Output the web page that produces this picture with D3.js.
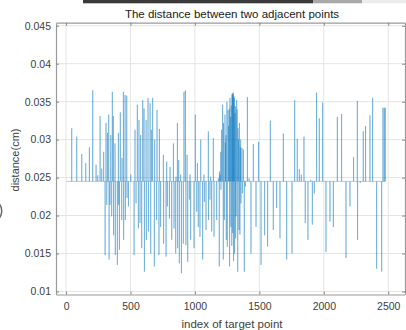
<!DOCTYPE html>
<html>
<head>
<meta charset="utf-8">
<script src="https://cdn.jsdelivr.net/npm/d3@7"></script>
<style>
  html, body { margin: 0; padding: 0; background: #fff; }
  svg { display: block; font-family: "Liberation Sans", Arial, sans-serif; }
</style>
</head>
<body>
<div id="chart"></div>
<script>
// values
const nPoints = 2480;
const baseline = 0.0245;

const spikeIndex = [
  44, 83, 122, 153, 181, 207, 233, 246, 264, 277, 292, 303, 310, 316, 321, 331, 334, 341, 347, 354,
  359, 367, 369, 380, 382, 398, 406, 408, 414, 421, 432, 434, 445, 447, 458, 460, 471, 473, 484, 502,
  528, 535, 543, 553, 561, 566, 574, 579, 587, 595, 605, 608, 621, 623, 636, 639, 652, 657, 662, 672,
  685, 688, 703, 706, 721, 724, 734, 755, 757, 776, 781, 786, 802, 807, 820, 833, 838, 851, 853, 864,
  866, 874, 879, 889, 895, 910, 915, 926, 930, 939, 944, 957, 962, 967, 993, 1003, 1014, 1019, 1026, 1039,
  1045, 1060, 1070, 1073, 1086, 1104, 1106, 1117, 1122, 1130, 1143, 1148, 1169, 1182, 1189, 1190, 1195, 1200, 1202, 1207,
  1215, 1220, 1222, 1228, 1233, 1236, 1241, 1243, 1248, 1251, 1257, 1262, 1267, 1269, 1272, 1277, 1279, 1282, 1286, 1288,
  1290, 1293, 1295, 1298, 1300, 1303, 1305, 1308, 1311, 1314, 1316, 1319, 1324, 1327, 1332, 1334, 1338, 1342, 1345, 1349,
  1352, 1355, 1357, 1365, 1368, 1376, 1383, 1391, 1407, 1420, 1435, 1453, 1474, 1494, 1513, 1541, 1564, 1585, 1608, 1634,
  1660, 1686, 1712, 1753, 1774, 1794, 1810, 1825, 1846, 1856, 1877, 1898, 1911, 1926, 1944, 1965, 1991, 2017, 2048, 2074,
  2105, 2138, 2172, 2203, 2231, 2260, 2262, 2283, 2306, 2324, 2358, 2379, 2410, 2449, 2459, 2469, 2477
];

const spikeValue = [
  0.0315, 0.0304, 0.0281, 0.0269, 0.0290, 0.0365, 0.0267, 0.0253, 0.0331, 0.0262, 0.0284, 0.0148, 0.0322, 0.0214, 0.0309, 0.0333, 0.0142, 0.0214, 0.0306, 0.0199,
  0.0363, 0.0331, 0.0174, 0.0295, 0.0148, 0.0135, 0.0309, 0.0214, 0.0155, 0.0336, 0.0194, 0.0276, 0.0363, 0.0168, 0.0359, 0.0194, 0.0358, 0.0223, 0.0212, 0.0254,
  0.0148, 0.0313, 0.0216, 0.0346, 0.0183, 0.0326, 0.0190, 0.0306, 0.0157, 0.0352, 0.0341, 0.0126, 0.0326, 0.0168, 0.0355, 0.0179, 0.0348, 0.0150, 0.0313, 0.0355,
  0.0133, 0.0300, 0.0194, 0.0339, 0.0148, 0.0314, 0.0185, 0.0280, 0.0163, 0.0146, 0.0271, 0.0212, 0.0196, 0.0264, 0.0168, 0.0295, 0.0183, 0.0150, 0.0251, 0.0322,
  0.0157, 0.0273, 0.0137, 0.0254, 0.0124, 0.0163, 0.0363, 0.0365, 0.0161, 0.0280, 0.0139, 0.0221, 0.0254, 0.0168, 0.0157, 0.0333, 0.0205, 0.0269, 0.0185, 0.0172,
  0.0300, 0.0142, 0.0254, 0.0218, 0.0181, 0.0311, 0.0194, 0.0221, 0.0251, 0.0179, 0.0302, 0.0172, 0.0194, 0.0249, 0.0133, 0.0258, 0.0254, 0.0284, 0.0234, 0.0313,
  0.0346, 0.0142, 0.0322, 0.0194, 0.0333, 0.0296, 0.0306, 0.0168, 0.0350, 0.0159, 0.0339, 0.0318, 0.0341, 0.0133, 0.0355, 0.0330, 0.0185, 0.0345, 0.0160, 0.0359,
  0.0361, 0.0177, 0.0360, 0.0362, 0.0140, 0.0357, 0.0355, 0.0150, 0.0335, 0.0344, 0.0170, 0.0199, 0.0352, 0.0340, 0.0126, 0.0315, 0.0300, 0.0181, 0.0322, 0.0175,
  0.0290, 0.0300, 0.0216, 0.0289, 0.0229, 0.0287, 0.0126, 0.0238, 0.0356, 0.0249, 0.0150, 0.0294, 0.0185, 0.0297, 0.0135, 0.0174, 0.0159, 0.0325, 0.0181, 0.0210,
  0.0170, 0.0308, 0.0142, 0.0150, 0.0352, 0.0301, 0.0261, 0.0254, 0.0304, 0.0190, 0.0168, 0.0247, 0.0188, 0.0229, 0.0362, 0.0328, 0.0349, 0.0152, 0.0192, 0.0185,
  0.0330, 0.0334, 0.0144, 0.0212, 0.0277, 0.0351, 0.0168, 0.0243, 0.0311, 0.0318, 0.0332, 0.0355, 0.0130, 0.0126, 0.0342, 0.0342, 0.0342
];

const xTicks = [0, 500, 1000, 1500, 2000, 2500];
const yTicks = [0.01, 0.015, 0.02, 0.025, 0.03, 0.035, 0.04, 0.045];
const yTickLabels = ["0.01", "0.015", "0.02", "0.025", "0.03", "0.035", "0.04", "0.045"];

const titleText = "The distance between two adjacent points";
const xLabel = "index of target point";
const yLabel = "distance(cm)";

// build the full series: baseline everywhere, spikes where read
const series = d3.range(nPoints).map(i => ({ i: i, v: baseline }));
spikeIndex.forEach((idx, k) => { series[idx].v = spikeValue[k]; });

const width = 406, height = 330;
const box = { left: 56, right: 405, top: 22.7, bottom: 294.5 };

const svg = d3.select("#chart").append("svg")
  .attr("width", width)
  .attr("height", height);

// screen artefacts at the top edge / left edge of the photo
svg.append("rect").attr("x", 83).attr("y", 0).attr("width", 230).attr("height", 3.3).attr("fill", "#3a3a3a");
svg.append("rect").attr("x", 313).attr("y", 0).attr("width", 49).attr("height", 3.3).attr("fill", "#a9a9a9");
svg.append("rect").attr("x", 362).attr("y", 0).attr("width", 44).attr("height", 3.3).attr("fill", "#ececec");
svg.append("path")
  .attr("d", d3.arc()({ innerRadius: 11, outerRadius: 12.5, startAngle: Math.PI * 0.25, endAngle: Math.PI * 0.75 }))
  .attr("transform", "translate(-10,211)")
  .attr("fill", "#666");

const x = d3.scaleLinear().domain([-78, 2630]).range([box.left, box.right]);
const y = d3.scaleLinear().domain([0.0096, 0.0454]).range([box.bottom, box.top]);

// grid
const grid = svg.append("g").attr("stroke", "#e4e4e4").attr("stroke-width", 1);
grid.selectAll(".vg").data(xTicks).enter().append("line")
  .attr("x1", d => x(d)).attr("x2", d => x(d))
  .attr("y1", box.top).attr("y2", box.bottom);
grid.selectAll(".hg").data(yTicks).enter().append("line")
  .attr("x1", box.left).attr("x2", box.right)
  .attr("y1", d => y(d)).attr("y2", d => y(d));

// the data line
const line = d3.line()
  .x(d => x(d.i))
  .y(d => y(d.v));

svg.append("path")
  .datum(series)
  .attr("d", line)
  .attr("fill", "none")
  .attr("stroke", "#0072BD")
  .attr("stroke-width", 0.6)
  .attr("stroke-opacity", 0.6);

// axes (ticks point inwards, box all round)
const axisColor = "#9a9a9a";
const tickLen = 3;

const xAxisB = svg.append("g").attr("transform", `translate(0,${box.bottom})`)
  .call(d3.axisBottom(x).tickValues(xTicks).tickSizeInner(-tickLen).tickSizeOuter(0).tickPadding(8)
    .tickFormat(d3.format("d")));
const xAxisT = svg.append("g").attr("transform", `translate(0,${box.top})`)
  .call(d3.axisTop(x).tickValues(xTicks).tickSizeInner(-tickLen).tickSizeOuter(0).tickFormat(""));
const yAxisL = svg.append("g").attr("transform", `translate(${box.left},0)`)
  .call(d3.axisLeft(y).tickValues(yTicks).tickSizeInner(-tickLen).tickSizeOuter(0).tickPadding(5)
    .tickFormat((d, i) => yTickLabels[i]));
const yAxisR = svg.append("g").attr("transform", `translate(${box.right},0)`)
  .call(d3.axisRight(y).tickValues(yTicks).tickSizeInner(-tickLen).tickSizeOuter(0).tickFormat(""));

[xAxisB, xAxisT, yAxisL, yAxisR].forEach(g => {
  g.select(".domain").attr("stroke", axisColor).attr("stroke-width", 1.2);
  g.selectAll(".tick line").attr("stroke", "#888");
  g.selectAll("text")
    .attr("fill", "#404040")
    .style("font-size", "10.5px")
    .style("font-family", "'Liberation Sans', Arial, sans-serif");
});

// title and labels
svg.append("text")
  .attr("x", 232).attr("y", 18)
  .attr("text-anchor", "middle")
  .attr("fill", "#202020")
  .style("font-size", "11.5px")
  .text(titleText);

svg.append("text")
  .attr("x", 232).attr("y", 328)
  .attr("text-anchor", "middle")
  .attr("fill", "#404040")
  .style("font-size", "11.5px")
  .text(xLabel);

svg.append("text")
  .attr("transform", "translate(19,160) rotate(-90)")
  .attr("text-anchor", "middle")
  .attr("fill", "#404040")
  .style("font-size", "11px")
  .text(yLabel);
</script>
</body>
</html>
